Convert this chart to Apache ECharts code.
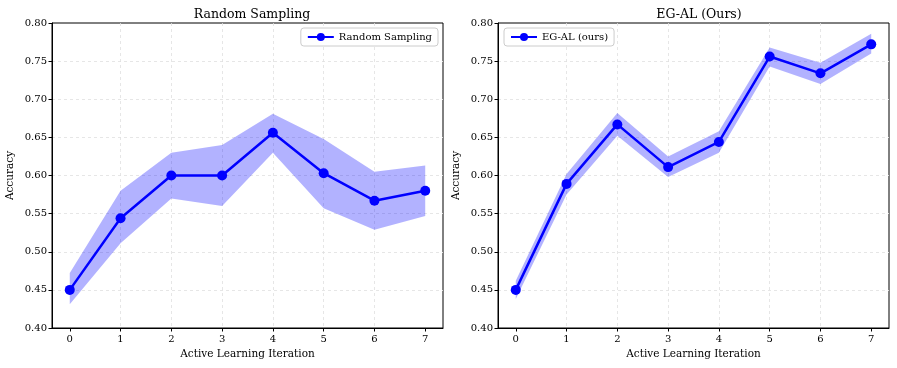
<!DOCTYPE html>
<html>
<head>
<meta charset="utf-8">
<script src="https://cdn.jsdelivr.net/npm/echarts@6/dist/echarts.min.js"></script>
<style>
  html, body { margin: 0; padding: 0; background: #fff; }
  #main { width: 897px; height: 368px; }
</style>
</head>
<body>
<div id="main"></div>
<script>
// iterations on the x axis
var iterations = [0, 1, 2, 3, 4, 5, 6, 7];

// random sampling: mean and band
var randomMean  = [0.450, 0.544, 0.600, 0.600, 0.656, 0.603, 0.567, 0.580];
var randomUpper = [0.472, 0.580, 0.630, 0.640, 0.681, 0.648, 0.605, 0.613];
var randomLower = [0.431, 0.511, 0.570, 0.560, 0.630, 0.557, 0.529, 0.547];

// EG-AL: mean and band
var egalMean  = [0.450, 0.589, 0.667, 0.611, 0.644, 0.756, 0.734, 0.772];
var egalUpper = [0.462, 0.602, 0.682, 0.625, 0.658, 0.768, 0.748, 0.786];
var egalLower = [0.438, 0.575, 0.652, 0.598, 0.630, 0.743, 0.720, 0.760];

var serif = "DejaVu Serif";
var blue = "#0000ff";
var bandColor = "rgba(0,0,255,0.3)";

var chart = echarts.init(document.getElementById("main"), null, {renderer: "canvas"});

var pairs = function (ys) {
  var out = [];
  for (var i = 0; i < iterations.length; i++) {
    out.push([iterations[i], ys[i]]);
  }
  return out;
};

var makeX = function (idx) {
  return {
    type: "value", gridIndex: idx, min: -0.35, max: 7.35,
    name: "Active Learning Iteration", nameLocation: "middle", nameGap: 20,
    nameTextStyle: {fontFamily: serif, fontSize: 10.5, color: "#000"},
    axisLine: {show: true, onZero: false, lineStyle: {color: "#000", width: 1}},
    axisTick: {show: true, length: 3.5, lineStyle: {color: "#000"}, customValues: iterations},
    axisLabel: {fontFamily: serif, fontSize: 10, color: "#000", margin: 6, customValues: iterations},
    splitLine: {show: true, showMinLine: false, showMaxLine: false,
      lineStyle: {color: "#e0e0e0", type: [3, 3], width: 0.8}}
  };
};
var makeY = function (idx) {
  return {
    type: "value", gridIndex: idx, min: 0.4, max: 0.8, interval: 0.05,
    name: "Accuracy", nameLocation: "middle", nameGap: 36, nameRotate: 90,
    nameTextStyle: {fontFamily: serif, fontSize: 10.5, color: "#000"},
    axisLine: {show: true, onZero: false, lineStyle: {color: "#000", width: 1}},
    axisTick: {show: true, length: 3.5, lineStyle: {color: "#000"}},
    axisLabel: {fontFamily: serif, fontSize: 10, color: "#000", margin: 5,
      formatter: function (v) { return v.toFixed(2); }},
    splitLine: {show: true, showMinLine: false, showMaxLine: false,
      lineStyle: {color: "#e0e0e0", type: [3, 3], width: 0.8}}
  };
};

// band between lower and upper, drawn as one polygon through the axis scales
var bandSeries = function (idx, lo, up) {
  var data = [];
  for (var i = 0; i < iterations.length; i++) {
    data.push([iterations[i], lo[i], up[i]]);
  }
  return {
    type: "custom", xAxisIndex: idx, yAxisIndex: idx, data: data, silent: true, z: 1,
    clip: true,
    renderItem: function (params, api) {
      if (params.dataIndex !== 0) return;
      var top = [], bot = [];
      for (var k = 0; k < data.length; k++) {
        top.push(api.coord([data[k][0], data[k][2]]));
        bot.unshift(api.coord([data[k][0], data[k][1]]));
      }
      return {
        type: "polygon",
        shape: {points: top.concat(bot)},
        style: {fill: bandColor, stroke: null}
      };
    }
  };
};

var meanSeries = function (idx, name, ys) {
  return {
    type: "line", name: name, xAxisIndex: idx, yAxisIndex: idx,
    data: pairs(ys), symbol: "circle", symbolSize: 10, showSymbol: true,
    lineStyle: {color: blue, width: 2.5}, itemStyle: {color: blue}, z: 3
  };
};

var legendBase = {
  top: 28, orient: "vertical", itemWidth: 26, itemHeight: 10, itemGap: 4,
  padding: [4, 6, 4, 6], borderColor: "#cccccc", borderWidth: 1, borderRadius: 3,
  backgroundColor: "#fff",
  textStyle: {fontFamily: serif, fontSize: 10, color: "#000"}
};

var option = {
  backgroundColor: "#fff",
  animation: false,
  title: [
    {text: "Random Sampling", left: 247, top: 3, textAlign: "center",
      textStyle: {fontFamily: serif, fontSize: 12.5, fontWeight: "normal", color: "#000"}},
    {text: "EG-AL (Ours)", left: 694, top: 3, textAlign: "center",
      textStyle: {fontFamily: serif, fontSize: 12.5, fontWeight: "normal", color: "#000"}}
  ],
  grid: [
    {left: 52, right: 454, top: 23, bottom: 40, show: true, borderColor: "#000", borderWidth: 1, backgroundColor: "transparent"},
    {left: 498, right: 8, top: 23, bottom: 40, show: true, borderColor: "#000", borderWidth: 1, backgroundColor: "transparent"}
  ],
  legend: [
    Object.assign({}, legendBase, {right: 459, data: ["Random Sampling"]}),
    Object.assign({}, legendBase, {left: 504, data: ["EG-AL (ours)"]})
  ],
  xAxis: [makeX(0), makeX(1)],
  yAxis: [makeY(0), makeY(1)],
  series: [
    bandSeries(0, randomLower, randomUpper),
    meanSeries(0, "Random Sampling", randomMean),
    bandSeries(1, egalLower, egalUpper),
    meanSeries(1, "EG-AL (ours)", egalMean)
  ]
};

chart.setOption(option);
</script>
</body>
</html>
